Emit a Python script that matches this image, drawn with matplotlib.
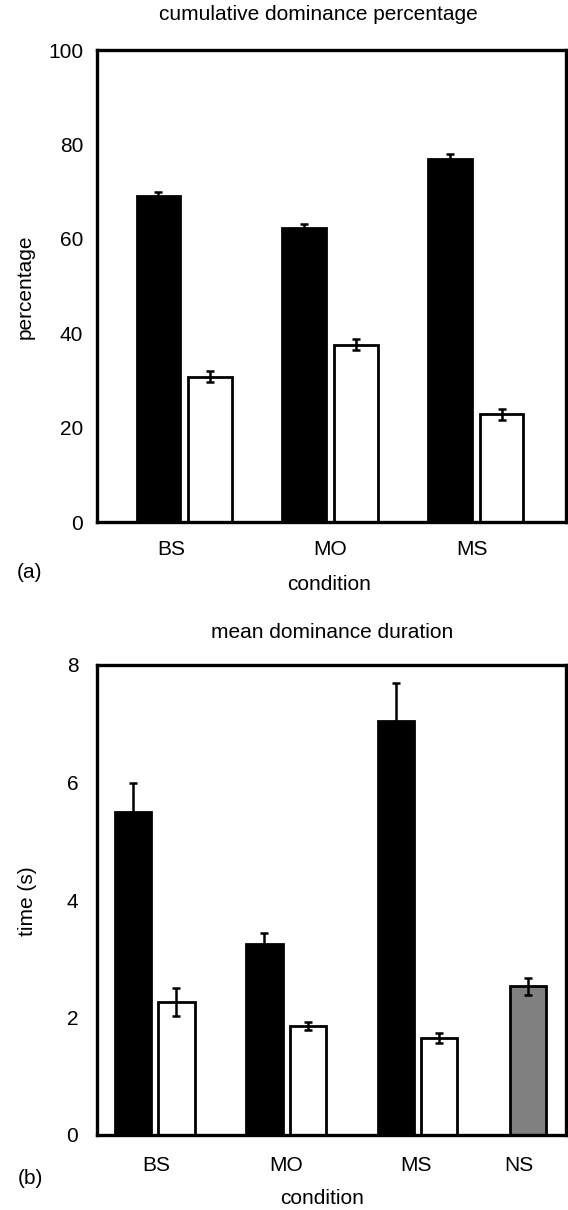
import matplotlib
matplotlib.use("Agg")
import matplotlib.pyplot as plt
import numpy as np

plt.rcParams['font.family'] = ['Liberation Sans', 'DejaVu Sans']

# ---- data ----
conds_a = ["BS", "MO", "MS"]
pct_black = [69.0, 62.2, 77.0]
pct_black_err = [1.0, 0.9, 0.9]
pct_white = [30.8, 37.6, 22.8]
pct_white_err = [1.2, 1.1, 1.1]

conds_b = ["BS", "MO", "MS", "NS"]
dur_black = [5.50, 3.25, 7.05]
dur_black_err = [0.50, 0.18, 0.64]
dur_white = [2.26, 1.86, 1.65]
dur_white_err = [0.24, 0.07, 0.08]
dur_ns = [2.53]
dur_ns_err = [0.15]

W, H = 568, 1210
fig = plt.figure(figsize=(W / 100, H / 100), dpi=100)

def px_axes(l, t, r, b):
    return fig.add_axes([l / W, 1 - b / H, (r - l) / W, (b - t) / H])

def ftext(x, y, s, **kw):
    fig.text(x / W, 1 - y / H, s, ha='center', va='center', fontsize=15, **kw)

def style(ax, ypad, xpad):
    for sp in ax.spines.values():
        sp.set_linewidth(2.4)
    ax.tick_params(length=0, labelsize=15)
    ax.tick_params(axis='y', pad=ypad)
    ax.tick_params(axis='x', pad=xpad)

ekw = dict(ecolor='black', elinewidth=1.8, capsize=3, capthick=1.8)

# ---- panel (a) ----
ax1 = px_axes(97, 50, 566, 522)
xa = np.arange(len(conds_a))
wa, oa = 0.30, 0.178
ax1.bar(xa - oa, pct_black, wa, color='black', edgecolor='black', linewidth=2,
        yerr=pct_black_err, error_kw=ekw, zorder=2)
ax1.bar(xa + oa, pct_white, wa, color='white', edgecolor='black', linewidth=2,
        yerr=pct_white_err, error_kw=ekw, zorder=2)
ax1.set_xlim(-0.60, 2.62)
ax1.set_ylim(0, 100)
ax1.set_yticks([0, 20, 40, 60, 80, 100])
ax1.set_xticks([-0.09, 1.0, 1.975])
ax1.set_xticklabels(conds_a)
style(ax1, 10, 13)
ftext(25, 287, "percentage", rotation=90)
ftext(318, 15, "cumulative dominance percentage")
ftext(329, 584, "condition")
ftext(30, 573, "(a)")

# ---- panel (b) ----
ax2 = px_axes(97, 665, 566, 1135)
xb = np.arange(3)
wb, ob = 0.275, 0.165
ax2.bar(xb - ob, dur_black, wb, color='black', edgecolor='black', linewidth=2,
        yerr=dur_black_err, error_kw=ekw, zorder=2)
ax2.bar(xb + ob, dur_white, wb, color='white', edgecolor='black', linewidth=2,
        yerr=dur_white_err, error_kw=ekw, zorder=2)
ax2.bar([2.84], dur_ns, wb, color='#808080', edgecolor='black', linewidth=2,
        yerr=dur_ns_err, error_kw=ekw, zorder=2)
ax2.set_xlim(-0.44, 3.13)
ax2.set_ylim(0, 8)
ax2.set_yticks([0, 2, 4, 6, 8])
ax2.set_xticks([0.01, 1.0, 1.99, 2.77])
ax2.set_xticklabels(conds_b)
style(ax2, 13.5, 15)
ftext(28, 901, "time (s)", rotation=90)
ftext(332, 633, "mean dominance duration")
ftext(322, 1199, "condition")
ftext(30, 1178, "(b)")

fig.savefig("out.png", dpi=100)
